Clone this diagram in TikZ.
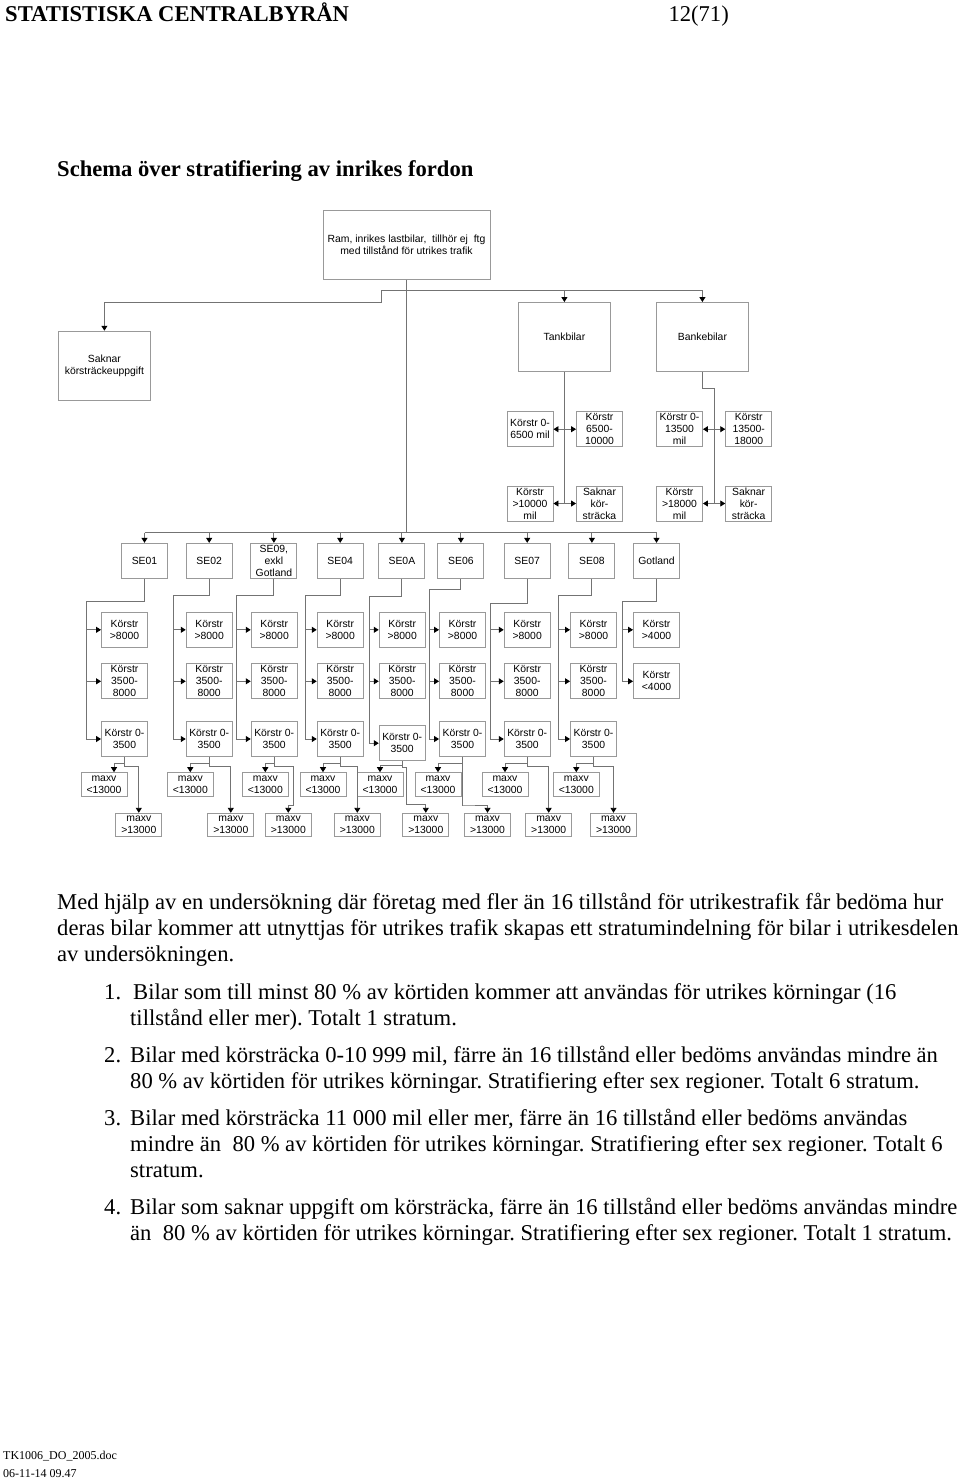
\documentclass[tikz,border=0pt]{standalone}
\usepackage{fontspec}
\setmainfont{Liberation Serif}
\newfontfamily\boxfont{Liberation Sans}
\usetikzlibrary{arrows.meta}
\frenchspacing
\definecolor{boxline}{gray}{0.6}
\definecolor{wire}{gray}{0.45}
\tikzset{
  box/.style={draw=boxline, line width=0.9pt, font=\boxfont\fontsize{10.4}{12}\selectfont,
    align=center, inner xsep=1pt, inner ysep=0pt, minimum width=46pt, minimum height=35pt},
  bigbox/.style={box, minimum width=92pt, minimum height=69pt},
  maxbox/.style={box, minimum height=23.5pt},
  lnk/.style={draw=wire, line width=0.9pt},
  arr/.style={lnk, -{Triangle[length=5pt,width=6pt,color=black]}},
  arrr/.style={lnk, {Triangle[length=5pt,width=6pt,color=black]}-{Triangle[length=5pt,width=6pt,color=black]}},
  body/.style={anchor=base west, inner sep=0pt, font=\fontsize{22.6}{26}\selectfont},
}

\begin{document}
\begin{tikzpicture}[x=1pt,y=-1pt]
\useasboundingbox (0,0) rectangle (960,1482);
% page head and title
\node[body, font=\bfseries\fontsize{22.6}{26}\selectfont] (head) at (5,21.7) {STATISTISKA CENTRALBYRÅN};
\node[body, anchor=base east] (page) at (729,21.7) {12(71)};
\node[body, font=\bfseries\fontsize{22.6}{26}\selectfont] (title) at (57,177) {Schema över stratifiering av inrikes fordon};

% frame and first split
\node[box, minimum width=167pt, minimum height=68.6pt] (ram) at (406.5,245) {Ram, inrikes lastbilar,\ \ tillhör ej\ \ ftg\\med tillstånd för utrikes trafik};
\node[bigbox] (saknar) at (104.4,365.7) {Saknar\\körsträckeuppgift};
\node[bigbox] (tank) at (564.4,337) {Tankbilar};
\node[bigbox] (bank) at (702.4,337) {Bankebilar};
\coordinate (bus) at (406.5,290.7);
\coordinate (kink) at (381.5,302.7);
\coordinate (sebus) at (406.5,532.5);
\draw[lnk] (ram.south) -- (sebus);
\draw[arr] (bus) -| (tank.north);
\draw[arr] (bus) -| (bank.north);
\draw[arr] (bus) -| (kink) -| (saknar.north);

% tank and bank cars
\node[box] (t1) at (530,429.2) {Körstr 0-\\6500 mil};
\node[box] (t2) at (599.5,429.2) {Körstr\\6500-\\10000};
\node[box] (t3) at (530,503.5) {Körstr\\>10000\\mil};
\node[box] (t4) at (599.5,503.5) {Saknar\\kör-\\sträcka};
\node[box] (b1) at (679.5,429.2) {Körstr 0-\\13500\\mil};
\node[box] (b2) at (748.7,429.2) {Körstr\\13500-\\18000};
\node[box] (b3) at (679.5,503.5) {Körstr\\>18000\\mil};
\node[box] (b4) at (748.7,503.5) {Saknar\\kör-\\sträcka};
\coordinate (bjog) at (714,388.3);
\draw[lnk] (tank.south) -- (tank.south |- t3.east);
\draw[lnk] (bank.south) |- (bjog) -- (bjog |- b3.east);
\draw[arrr] (t1.east) -- (t2.west); \draw[arrr] (t3.east) -- (t4.west);
\draw[arrr] (b1.east) -- (b2.west); \draw[arrr] (b3.east) -- (b4.west);

% regions
\node[box] (se1) at (144.5,560.8) {SE01};
\node[box] (se2) at (209.2,560.8) {SE02};
\node[box] (se9) at (273.9,560.8) {SE09,\\exkl\\Gotland};
\node[box] (se4) at (340.2,560.8) {SE04};
\node[box] (sea) at (401.9,560.8) {SE0A};
\node[box] (se6) at (460.9,560.8) {SE06};
\node[box] (se7) at (527.2,560.8) {SE07};
\node[box] (se8) at (591.9,560.8) {SE08};
\node[box] (got) at (656.5,560.8) {Gotland};
\draw[lnk] (se1.north |- sebus) -- (got.north |- sebus);
\draw[arr] (se1.north |- sebus) -- (se1.north); \draw[arr] (se2.north |- sebus) -- (se2.north);
\draw[arr] (se9.north |- sebus) -- (se9.north); \draw[arr] (se4.north |- sebus) -- (se4.north);
\draw[arr] (sea.north |- sebus) -- (sea.north); \draw[arr] (se6.north |- sebus) -- (se6.north);
\draw[arr] (se7.north |- sebus) -- (se7.north); \draw[arr] (se8.north |- sebus) -- (se8.north);
\draw[arr] (got.north |- sebus) -- (got.north);

% mileage strata
\node[box] (k1a) at (124.5,629.8) {Körstr\\>8000}; \node[box] (k1b) at (124.5,681.3) {Körstr\\3500-\\8000}; \node[box] (k1c) at (124.5,739) {Körstr 0-\\3500};
\node[box] (k2a) at (209.2,629.8) {Körstr\\>8000}; \node[box] (k2b) at (209.2,681.3) {Körstr\\3500-\\8000}; \node[box] (k2c) at (209.2,739) {Körstr 0-\\3500};
\node[box] (k3a) at (274.2,629.8) {Körstr\\>8000}; \node[box] (k3b) at (274.2,681.3) {Körstr\\3500-\\8000}; \node[box] (k3c) at (274.2,739) {Körstr 0-\\3500};
\node[box] (k4a) at (340.2,629.8) {Körstr\\>8000}; \node[box] (k4b) at (340.2,681.3) {Körstr\\3500-\\8000}; \node[box] (k4c) at (340.2,739) {Körstr 0-\\3500};
\node[box] (k5a) at (402.2,629.8) {Körstr\\>8000}; \node[box] (k5b) at (402.2,681.3) {Körstr\\3500-\\8000}; \node[box] (k5c) at (402.2,743.2) {Körstr 0-\\3500};
\node[box] (k6a) at (462.5,629.8) {Körstr\\>8000}; \node[box] (k6b) at (462.5,681.3) {Körstr\\3500-\\8000}; \node[box] (k6c) at (462.5,739) {Körstr 0-\\3500};
\node[box] (k7a) at (527.2,629.8) {Körstr\\>8000}; \node[box] (k7b) at (527.2,681.3) {Körstr\\3500-\\8000}; \node[box] (k7c) at (527.2,739) {Körstr 0-\\3500};
\node[box] (k8a) at (593.5,629.8) {Körstr\\>8000}; \node[box] (k8b) at (593.5,681.3) {Körstr\\3500-\\8000}; \node[box] (k8c) at (593.5,739) {Körstr 0-\\3500};
\node[box] (k9a) at (656.5,629.8) {Körstr\\>4000}; \node[box] (k9b) at (656.5,681.3) {Körstr\\<4000};

\coordinate (v1) at (86.7,601); \coordinate (v2) at (173.3,595); \coordinate (v3) at (236.3,595);
\coordinate (v4) at (305.3,595); \coordinate (v5) at (369,596); \coordinate (v6) at (429.7,589);
\coordinate (v7) at (490,603); \coordinate (v8) at (558.7,595); \coordinate (v9) at (622.3,601);
\draw[arr] (se1.south) |- (v1) |- (k1c.west); \draw[arr] (v1 |- k1a.west) -- (k1a.west); \draw[arr] (v1 |- k1b.west) -- (k1b.west);
\draw[arr] (se2.south) |- (v2) |- (k2c.west); \draw[arr] (v2 |- k2a.west) -- (k2a.west); \draw[arr] (v2 |- k2b.west) -- (k2b.west);
\draw[arr] (se9.south) |- (v3) |- (k3c.west); \draw[arr] (v3 |- k3a.west) -- (k3a.west); \draw[arr] (v3 |- k3b.west) -- (k3b.west);
\draw[arr] (se4.south) |- (v4) |- (k4c.west); \draw[arr] (v4 |- k4a.west) -- (k4a.west); \draw[arr] (v4 |- k4b.west) -- (k4b.west);
\draw[arr] (sea.south) |- (v5) |- (k5c.west); \draw[arr] (v5 |- k5a.west) -- (k5a.west); \draw[arr] (v5 |- k5b.west) -- (k5b.west);
\draw[arr] (se6.south) |- (v6) |- (k6c.west); \draw[arr] (v6 |- k6a.west) -- (k6a.west); \draw[arr] (v6 |- k6b.west) -- (k6b.west);
\draw[arr] (se7.south) |- (v7) |- (k7c.west); \draw[arr] (v7 |- k7a.west) -- (k7a.west); \draw[arr] (v7 |- k7b.west) -- (k7b.west);
\draw[arr] (se8.south) |- (v8) |- (k8c.west); \draw[arr] (v8 |- k8a.west) -- (k8a.west); \draw[arr] (v8 |- k8b.west) -- (k8b.west);
\draw[arr] (got.south) |- (v9) |- (k9b.west); \draw[arr] (v9 |- k9a.west) -- (k9a.west);

% max weight
\node[maxbox] (lo1) at (104,784.4) {maxv\\<13000}; \node[maxbox] (hi1) at (138.8,825) {maxv\\>13000};
\node[maxbox] (lo2) at (190.3,784.4) {maxv\\<13000}; \node[maxbox] (hi2) at (230.8,825) {maxv\\>13000};
\node[maxbox] (lo3) at (265.3,784.4) {maxv\\<13000}; \node[maxbox] (hi3) at (288.3,825) {maxv\\>13000};
\node[maxbox] (lo4) at (323,784.4) {maxv\\<13000}; \node[maxbox] (hi4) at (357.3,825) {maxv\\>13000};
\node[maxbox] (lo5) at (380,784.4) {maxv\\<13000}; \node[maxbox] (hi5) at (425.8,825) {maxv\\>13000};
\node[maxbox] (lo6) at (438,784.4) {maxv\\<13000}; \node[maxbox] (hi6) at (487.5,825) {maxv\\>13000};
\node[maxbox] (lo7) at (505,784.4) {maxv\\<13000}; \node[maxbox] (hi7) at (548.7,825) {maxv\\>13000};
\node[maxbox] (lo8) at (576.3,784.4) {maxv\\<13000}; \node[maxbox] (hi8) at (613.5,825) {maxv\\>13000};
\coordinate (j3) at (293,805); \coordinate (j5) at (406,804); \coordinate (j6) at (463,805);
\draw[arr] (k1c.south) -- ++(0,6) -| ([xshift=10pt]lo1.north); \draw[arr] (k1c.south) -- ++(0,9) -| (hi1.north);
\draw[arr] (k2c.south) -- ++(0,6) -| (lo2.north); \draw[arr] (k2c.south) -- ++(0,9) -| (hi2.north);
\draw[arr] (k3c.south) -- ++(0,6) -| (lo3.north); \draw[arr] (k3c.south) -- ++(0,9) -| (j3) -| (hi3.north);
\draw[arr] (k4c.south) -- ++(0,6) -| (lo4.north); \draw[arr] (k4c.south) -- ++(0,9) -| (hi4.north);
\draw[arr] (k5c.south) -- ++(0,4) -| (lo5.north); \draw[arr] (k5c.south) -- ++(0,6) -| (j5) -| (hi5.north);
\draw[arr] (k6c.south) -- ++(0,6) -| (lo6.north); \draw[arr] (k6c.south) |- (j6) -| (hi6.north);
\draw[arr] (k7c.south) -- ++(0,6) -| (lo7.north); \draw[arr] (k7c.south) -- ++(0,9) -| (hi7.north);
\draw[arr] (k8c.south) -- ++(0,6) -| (lo8.north); \draw[arr] (k8c.south) -- ++(0,9) -| (hi8.north);

% text below the scheme
\node[body] (p1) at (57,909) {Med hjälp av en undersökning där företag med fler än 16 tillstånd för utrikestrafik får bedöma hur};
\node[body] (p2) at (57,935) {deras bilar kommer att utnyttjas för utrikes trafik skapas ett stratumindelning för bilar i utrikesdelen};
\node[body] (p3) at (57,961) {av undersökningen.};
\node[body] (n1) at (104,999) {1.};
\node[body] (i1a) at (133,999) {Bilar som till minst 80 \% av körtiden kommer att användas för utrikes körningar (16};
\node[body] (i1b) at (130,1025) {tillstånd eller mer). Totalt 1 stratum.};
\node[body] (n2) at (104,1062) {2.};
\node[body] (i2a) at (130,1062) {Bilar med körsträcka 0-10 999 mil, färre än 16 tillstånd eller bedöms användas mindre än};
\node[body] (i2b) at (130,1088) {80 \% av körtiden för utrikes körningar. Stratifiering efter sex regioner. Totalt 6 stratum.};
\node[body] (n3) at (104,1125) {3.};
\node[body] (i3a) at (130,1125) {Bilar med körsträcka 11 000 mil eller mer, färre än 16 tillstånd eller bedöms användas};
\node[body] (i3b) at (130,1151) {mindre än\ \ 80 \% av körtiden för utrikes körningar. Stratifiering efter sex regioner. Totalt 6};
\node[body] (i3c) at (130,1177) {stratum.};
\node[body] (n4) at (104,1214) {4.};
\node[body] (i4a) at (130,1214) {Bilar som saknar uppgift om körsträcka, färre än 16 tillstånd eller bedöms användas mindre};
\node[body] (i4b) at (130,1240) {än\ \ 80 \% av körtiden för utrikes körningar. Stratifiering efter sex regioner. Totalt 1 stratum.};

% footer
\node[body, font=\fontsize{12}{14}\selectfont] (file) at (3,1459) {TK1006\_DO\_2005.doc};
\node[body, font=\fontsize{12}{14}\selectfont] (date) at (3,1477) {06-11-14 09.47};
\end{tikzpicture}
\end{document}
